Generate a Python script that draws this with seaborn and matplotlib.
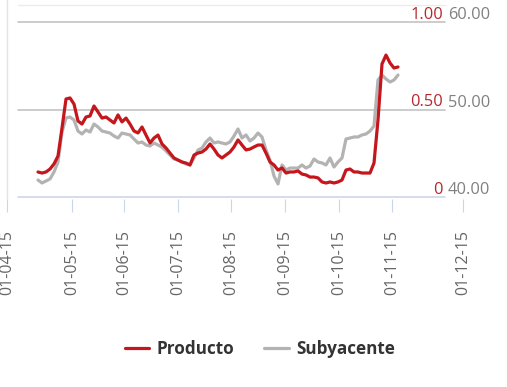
import numpy as np
import pandas as pd
import matplotlib
matplotlib.use("Agg")
import matplotlib.pyplot as plt
import matplotlib.transforms as mtransforms
import seaborn as sns

# ---------------- data ----------------
producto = [0.143, 0.137, 0.143, 0.160, 0.189, 0.234, 0.394, 0.560, 0.566, 0.531,
            0.434, 0.417, 0.457, 0.463, 0.520, 0.486, 0.451, 0.457, 0.440, 0.423,
            0.469, 0.429, 0.451, 0.417, 0.377, 0.366, 0.400, 0.354, 0.309, 0.337,
            0.354, 0.303, 0.280, 0.251, 0.223, 0.211, 0.200, 0.194, 0.183, 0.240,
            0.251, 0.257, 0.274, 0.303, 0.274, 0.240, 0.223, 0.240, 0.257, 0.286,
            0.326, 0.297, 0.269, 0.274, 0.286, 0.297, 0.297, 0.251, 0.200, 0.183,
            0.154, 0.166, 0.137, 0.143, 0.143, 0.149, 0.131, 0.126, 0.114, 0.114,
            0.109, 0.086, 0.080, 0.086, 0.080, 0.086, 0.097, 0.154, 0.160, 0.143,
            0.143, 0.137, 0.137, 0.137, 0.194, 0.440, 0.760, 0.811, 0.766, 0.737,
            0.743]
subyacente = [41.94, 41.60, 41.83, 42.06, 42.86, 44.00, 47.43, 49.03, 49.14, 48.80,
              47.54, 47.20, 47.66, 47.43, 48.34, 48.00, 47.54, 47.43, 47.31, 46.97,
              46.74, 47.31, 47.20, 47.09, 46.63, 46.17, 46.29, 45.94, 45.83, 46.17,
              45.94, 45.71, 45.26, 44.80, 44.34, 44.23, 44.00, 43.77, 43.66, 44.46,
              45.37, 45.60, 46.29, 46.74, 46.17, 46.29, 46.17, 46.06, 46.29, 46.97,
              47.77, 46.74, 47.09, 46.40, 46.74, 47.31, 46.86, 45.37, 44.23, 42.40,
              41.49, 43.66, 43.09, 43.31, 43.31, 43.31, 43.66, 43.31, 43.54, 44.34,
              44.00, 43.89, 43.66, 44.46, 43.43, 44.00, 44.46, 46.63, 46.74, 46.86,
              46.86, 47.09, 47.20, 47.54, 48.11, 53.37, 53.94, 53.49, 53.14, 53.37,
              53.94]
date_labels = ["01-04-15", "01-05-15", "01-06-15", "01-07-15", "01-08-15",
               "01-09-15", "01-10-15", "01-11-15", "01-12-15"]
date_pos = [-7.75, 8.5, 21.5, 35.0, 48.25, 61.75, 75.25, 88.5, 106.25]
red_ticks = [0, 0.5, 1.0]
red_labels = ["0", "0.50", "1.00"]
gray_ticks = [40, 50, 60]
gray_labels = ["40.00", "50.00", "60.00"]

df_p = pd.DataFrame({"t": np.arange(len(producto)), "v": producto})
df_s = pd.DataFrame({"t": np.arange(len(subyacente)), "v": subyacente})

# ---------------- style ----------------
sns.set_theme(style="white")
plt.rcParams["font.family"] = ["Open Sans", "DejaVu Sans"]

RED = "#c4161c"
GRAY = "#b3b3b3"

W, H = 507, 387
fig = plt.figure(figsize=(W / 100, H / 100), dpi=100)
ax = fig.add_axes([7 / W, 1 - 199 / H, 456 / W, 199 / H])
ax2 = ax.twinx()

r_lo, r_hi = -2 / 175, 197 / 175
ax2.set_ylim(r_lo, r_hi)
ax.set_ylim(40 + 20 * r_lo, 40 + 20 * r_hi)
ax.set_xlim(date_pos[0], date_pos[-1])

# gridlines (on the back axis)
x0, x1 = (18 - 7) / 456, (445 - 7) / 456
ax.axhline(40 + 20 * 1.097, xmin=x0, xmax=x1, color="#ececec", lw=1, zorder=0)
for g in gray_ticks:
    col = "#ccd6eb" if g == gray_ticks[0] else "#c3c3c3"
    ax.axhline(g, xmin=x0, xmax=x1, color=col, lw=1.2, zorder=0)

sns.lineplot(data=df_s, x="t", y="v", ax=ax, color=GRAY, lw=2.3, label="Subyacente", legend=False)
sns.lineplot(data=df_p, x="t", y="v", ax=ax2, color=RED, lw=2.3, label="Producto", legend=False)

for a in (ax, ax2):
    a.set_xlabel("")
    a.set_ylabel("")
    a.set_yticks([])
    for s in a.spines.values():
        s.set_visible(False)
ax.spines["left"].set_visible(True)
ax.spines["left"].set_color("#e3e3e3")
ax.spines["left"].set_linewidth(1)

ax.set_xticks(date_pos)
ax.set_xticklabels(date_labels, rotation=90)
ax.tick_params(axis="x", bottom=True, length=9.4, width=0.8, color="#ccd6eb",
               pad=13, labelsize=11.5, labelcolor="#666666")
ax2.tick_params(axis="x", bottom=False, labelbottom=False)

# right-hand value labels
off = mtransforms.ScaledTranslation(0, 3 / 100, fig.dpi_scale_trans)
tr_r = mtransforms.blended_transform_factory(ax2.transAxes, ax2.transData) + off
tr_g = mtransforms.blended_transform_factory(ax.transAxes, ax.transData) + off
for v, lab in zip(red_ticks, red_labels):
    ax2.text((443 - 7) / 456, v, lab, transform=tr_r, ha="right", va="baseline",
             color="#b5282d", fontsize=11.8, clip_on=False)
for v, lab in zip(gray_ticks, gray_labels):
    ax2.text((448 - 7) / 456, v, lab, transform=tr_g, ha="left", va="baseline",
             color="#808080", fontsize=11.8, clip_on=False)

h1, l1 = ax2.get_legend_handles_labels()
h2, l2 = ax.get_legend_handles_labels()
fig.legend(h1 + h2, l1 + l2, loc="center", bbox_to_anchor=(260 / W, 1 - 349 / H),
           ncol=2, frameon=False, handlelength=1.41, handletextpad=0.47,
           columnspacing=1.76, prop={"weight": "bold", "size": 12.3},
           labelcolor="#333333")

fig.savefig("out.png", dpi=100)
